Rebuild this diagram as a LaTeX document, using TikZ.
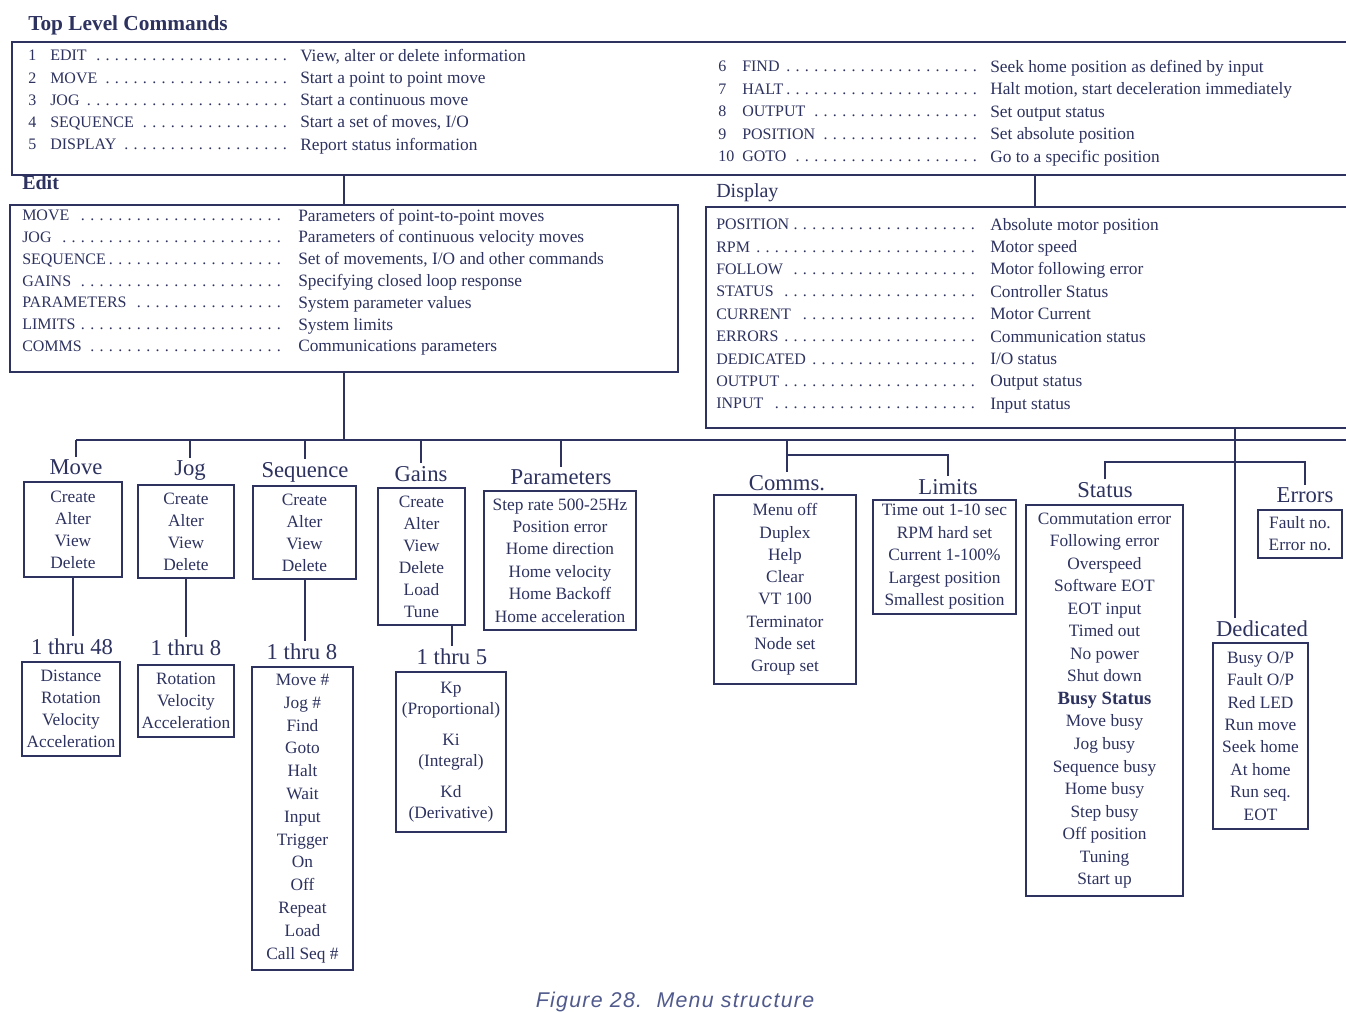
\documentclass[tikz,border=0pt]{standalone}
\usepackage{fontspec}
\setmainfont{Liberation Serif}
\newfontfamily\capfont[LetterSpace=6]{Liberation Sans}
\usetikzlibrary{calc}
\definecolor{ink}{RGB}{45,50,95}
\definecolor{capink}{RGB}{80,90,140}
\newcommand{\dotlead}{\leaders\hbox to 7pt{\hss.\hss}\hfill\hspace{3pt}}
\begin{document}
\begin{tikzpicture}[x=0.75pt,y=-0.75pt,
  every node/.style={text=ink, inner sep=0pt},
  txt/.style={font=\fontsize{12}{14}\selectfont, anchor=west},
  dtxt/.style={font=\fontsize{13}{15}\selectfont, anchor=west},
  ttl/.style={font=\fontsize{17}{19}\selectfont, inner sep=2pt},
  bigttl/.style={font=\fontsize{15}{17}\selectfont, anchor=west},
  lbox/.style={draw=ink, line width=1.5pt, align=center},
  bigbox/.style={line width=1.8pt},
  wire/.style={draw=ink, line width=1.5pt},
  fs/.style={font=\fontsize{13}{#1}\selectfont}
]
\useasboundingbox[fill=white] (0,0) rectangle (1346,1011);

% ---------- Top level commands ----------
\node[bigttl, font=\bfseries\fontsize{16}{18}\selectfont] (ttop) at (28,25) {Top Level Commands};
\node[minimum width=1000.5pt, minimum height=99.75pt] (tlbox) at (679,108.5) {};
\draw[ink, bigbox] (tlbox.north east) -- (tlbox.north west) -- (tlbox.south west) -- (tlbox.south east);

\foreach \n/\c/\d [count=\i] in {1/EDIT/{View, alter or delete information},
  2/MOVE/{Start a point to point move},
  3/JOG/{Start a continuous move},
  4/SEQUENCE/{Start a set of moves, I/O},
  5/DISPLAY/{Report status information}}{
  \node[txt] (tn\i) at (28,{57+22.3*(\i-1)}) {\hbox to 201pt{\strut\hbox to 16.5pt{\n\hss}\c\dotlead}};
  \node[dtxt] (td\i) at (300,{57+22.3*(\i-1)}) {\strut\d};
}
\foreach \n/\c/\d [count=\i] in {6/FIND/{Seek home position as defined by input},
  7/HALT/{Halt motion, start deceleration immediately},
  8/OUTPUT/{Set output status},
  9/POSITION/{Set absolute position},
  10/GOTO/{Go to a specific position}}{
  \node[txt] (rn\i) at (718,{68+22.5*(\i-1)}) {\hbox to 201pt{\strut\hbox to 18pt{\n\hss}\c\dotlead}};
  \node[dtxt] (rd\i) at (990,{68+22.5*(\i-1)}) {\strut\d};
}

% ---------- Edit ----------
\node[bigttl, font=\bfseries\fontsize{15}{17}\selectfont] (tedit) at (22,183) {Edit};
\node[draw=ink, bigbox, minimum width=501pt, minimum height=125.25pt] (editbox) at (344,288.5) {};
\foreach \c/\d [count=\i] in {MOVE/{Parameters of point-to-point moves},
  JOG/{Parameters of continuous velocity moves},
  SEQUENCE/{Set of movements, I/O and other commands},
  GAINS/{Specifying closed loop response},
  PARAMETERS/{System parameter values},
  LIMITS/{System limits},
  COMMS/{Communications parameters}}{
  \node[txt] (en\i) at (22,{217+21.8*(\i-1)}) {\hbox to 204pt{\strut\c\dotlead}};
  \node[dtxt] (ed\i) at (298,{217+21.8*(\i-1)}) {\strut\d};
}

% ---------- Display ----------
\node[bigttl] (tdisp) at (716,193) {Display};
\node[minimum width=480pt, minimum height=165.75pt] (dispbox) at (1026,317.5) {};
\draw[ink, bigbox] (dispbox.north east) -- (dispbox.north west) -- (dispbox.south west) -- (dispbox.south east);
\foreach \c/\d [count=\i] in {POSITION/{Absolute motor position},
  RPM/{Motor speed},
  FOLLOW/{Motor following error},
  STATUS/{Controller Status},
  CURRENT/{Motor Current},
  ERRORS/{Communication status},
  DEDICATED/{I/O status},
  OUTPUT/{Output status},
  INPUT/{Input status}}{
  \node[txt] (dn\i) at (716,{226+22.4*(\i-1)}) {\hbox to 202.5pt{\strut\c\dotlead}};
  \node[dtxt] (dd\i) at (990,{226+22.4*(\i-1)}) {\strut\d};
}

\draw[wire] (editbox.north) -- (editbox.north |- tlbox.south);
\draw[wire] ([xshift=6.75pt]dispbox.north) -- ([xshift=6.75pt]dispbox.north |- tlbox.south);

% ---------- Second level titles ----------
\node[ttl] (tmove)  at (76,467)  {Move};
\node[ttl] (tjog)   at (190,471) {Jog};
\node[ttl] (tseq)   at (305,472) {Sequence};
\node[ttl] (tgains) at (421,474) {Gains};
\node[ttl] (tparam) at (561,477) {Parameters};
\node[ttl] (tcomms) at (787,483) {Comms.};
\node[ttl] (tlimits) at (948,487) {Limits};
\node[ttl] (tstat)  at (1105,490) {Status};
\node[ttl] (terr)   at (1305,495) {Errors};
\node[ttl] (tded)   at (1262,629) {Dedicated};

% ---------- Second level boxes ----------
\node[lbox, fs=16.5, minimum width=73.5pt, minimum height=71.25pt] (bmove) at (73,529.5) {Create\\Alter\\View\\Delete};
\node[lbox, fs=16.5, minimum width=72pt, minimum height=69.75pt] (bjog) at (186,531.5) {Create\\Alter\\View\\Delete};
\node[lbox, fs=16.5, minimum width=77.25pt, minimum height=69.75pt] (bseq) at (304.5,532.5) {Create\\Alter\\View\\Delete};
\node[lbox, fs=16.5, minimum width=65.25pt, minimum height=102.75pt] (bgains) at (421.5,556.5) {Create\\Alter\\View\\Delete\\Load\\Tune};
\node[lbox, fs=16.8, minimum width=114pt, minimum height=104.25pt] (bparam) at (560,560.5) {Step rate 500-25Hz\\Position error\\Home direction\\Home velocity\\Home Backoff\\Home acceleration};
\node[lbox, fs=16.7, minimum width=106.5pt, minimum height=141.75pt] (bcomms) at (785,589.5) {Menu off\\Duplex\\Help\\Clear\\VT 100\\Terminator\\Node set\\Group set};
\node[lbox, fs=16.9, minimum width=107.25pt, minimum height=85.5pt] (blimits) at (944.5,557) {Time out 1-10 sec\\RPM hard set\\Current 1-100\%\\Largest position\\Smallest position};
\node[lbox, fs=16.9, minimum width=117.75pt, minimum height=293.25pt] (bstat) at (1104.5,700.5) {Commutation error\\Following error\\Overspeed\\Software EOT\\EOT input\\Timed out\\No power\\Shut down\\{\bfseries\fontsize{14}{16.9}\selectfont Busy Status}\\Move busy\\Jog busy\\Sequence busy\\Home busy\\Step busy\\Off position\\Tuning\\Start up};
\node[lbox, fs=16.5, minimum width=63pt, minimum height=36pt] (berr) at (1300,534) {Fault no.\\Error no.};
\node[lbox, fs=16.8, minimum width=71.25pt, minimum height=139.5pt] (bded) at (1260.5,736) {Busy O/P\\Fault O/P\\Red LED\\Run move\\Seek home\\At home\\Run seq.\\EOT};

% ---------- Third level ----------
\node[ttl] (smove)  at (72,647)  {1 thru 48};
\node[ttl] (sjog)   at (186,648) {1 thru 8};
\node[ttl] (sseq)   at (302,652) {1 thru 8};
\node[ttl] (sgains) at (452,657) {1 thru 5};

\node[lbox, fs=16.5, minimum width=73.5pt, minimum height=70.5pt] (cmove) at (71,709) {Distance\\Rotation\\Velocity\\Acceleration};
\node[lbox, fs=16.5, minimum width=72pt, minimum height=54pt] (cjog) at (186,701) {Rotation\\Velocity\\Acceleration};
\node[lbox, fs=17.1, minimum width=75.75pt, minimum height=227.25pt] (cseq) at (302.5,818.5) {Move \#\\Jog \#\\Find\\Goto\\Halt\\Wait\\Input\\Trigger\\On\\Off\\Repeat\\Load\\Call Seq \#};
\node[lbox, fs=15.8, minimum width=82.5pt, minimum height=120pt] (cgains) at (451,752) {Kp\\(Proportional)\\[7.5pt]Ki\\(Integral)\\[7.5pt]Kd\\(Derivative)};

% ---------- Connectors ----------
\coordinate (busL) at (76,440);
\coordinate (busR) at (1346,440);
\draw[wire] (editbox.south) -- (editbox.south |- busL);
\draw[wire] (busL) -- (busR);
\foreach \t in {tmove,tjog,tseq,tgains,tparam,tcomms}
  \draw[wire] (\t.north |- busL) -- (\t.north);
\coordinate (lbr) at (785,455);
\draw[wire] (tcomms.north |- lbr) -- (tlimits.north |- lbr) -- (tlimits.north);

\coordinate (dtap) at (1235,428);
\draw[wire] (dtap) -- (dtap |- tded.north);
\coordinate (sebr) at (1235,462);
\draw[wire] (tstat.north) -- (tstat.north |- sebr) -- (terr.north |- sebr) -- (terr.north);

\draw[wire] (bmove.south) -- (bmove.south |- smove.north);
\draw[wire] (bjog.south) -- (bjog.south |- sjog.north);
\draw[wire] (bseq.south) -- (bseq.south |- sseq.north);
\draw[wire] (sgains.north |- bgains.south) -- (sgains.north);

% ---------- Caption ----------
\node[font=\capfont\itshape\fontsize{16}{18}\selectfont, text=capink] (cap) at (675,1002) {Figure 28.\ \ Menu structure};
\end{tikzpicture}
\end{document}
